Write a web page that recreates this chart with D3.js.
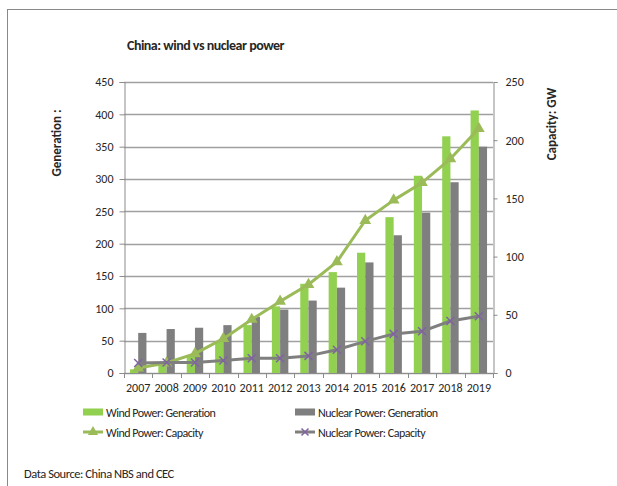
<!DOCTYPE html>
<html><head><meta charset="utf-8">
<script src="https://cdn.jsdelivr.net/npm/d3@7/dist/d3.min.js"></script>
<style>
html,body{margin:0;padding:0;background:#fff;}
text{font-family:Carlito, Lato, 'Open Sans', sans-serif; fill:#262626;}
</style></head>
<body><svg id="c" width="617" height="486"></svg>
<script>
const years = ["2007","2008","2009","2010","2011","2012","2013","2014","2015","2016","2017","2018","2019"];
const windGen = [5.7, 13, 27.6, 49.4, 74.1, 103, 138, 156, 186, 241, 305, 366, 406];
const nuclearGen = [62, 68, 70, 74, 87, 98, 112, 132, 171, 213, 248, 295, 350];
const windCap = [4.3, 8.6, 16.6, 29.5, 46, 61.5, 76, 95.5, 131, 148.5, 163.5, 184, 210];
const nuclearCap = [8.6, 9.1, 9.1, 10.8, 12.6, 12.6, 14.7, 20, 27.2, 33.6, 35.8, 44.7, 48.7];
const leftTicks = [0,50,100,150,200,250,300,350,400,450];
const rightTicks = [0,50,100,150,200,250];
const legendLabels = ["Wind Power: Generation","Nuclear Power: Generation","Wind Power: Capacity","Nuclear Power: Capacity"];

const C = {wind:"#92d050", nuc:"#7f7f7f", windLine:"#9bbb59", nucLine:"#7f7f7f", nucMark:"#8064a2", grid:"#a0a0a0", axis:"#8c8c8c"};
const svg = d3.select("#c");
svg.append("rect").attr("x",7.5).attr("y",9.5).attr("width",700).attr("height",600)
  .attr("fill","#fff").attr("stroke","#898989");

const L=124, R=493, T=82, B=373;
const x = d3.scaleBand().domain(years).range([L,R]).padding(0);
const yL = d3.scaleLinear().domain([0,450]).range([B,T]);
const yR = d3.scaleLinear().domain([0,250]).range([B,T]);

// gridlines
svg.append("g").selectAll("line").data(leftTicks).join("line")
  .attr("x1",L).attr("x2",R).attr("y1",d=>Math.round(yL(d))+0.5).attr("y2",d=>Math.round(yL(d))+0.5)
  .attr("stroke",C.grid).attr("stroke-width",1.3);

// bars
const bw = x.bandwidth()*0.29;
const g = svg.append("g");
g.selectAll(".w").data(years).join("rect")
  .attr("x",d=>x(d)+x.bandwidth()/2-bw).attr("width",bw)
  .attr("y",(d,i)=>yL(windGen[i])).attr("height",(d,i)=>yL(0)-yL(windGen[i]))
  .attr("fill",C.wind);
g.selectAll(".n").data(years).join("rect")
  .attr("x",d=>x(d)+x.bandwidth()/2).attr("width",bw)
  .attr("y",(d,i)=>yL(nuclearGen[i])).attr("height",(d,i)=>yL(0)-yL(nuclearGen[i]))
  .attr("fill",C.nuc);

// axes
const fs = "12px";
const axL = svg.append("g").attr("transform",`translate(${L+0.5},0)`)
  .call(d3.axisLeft(yL).tickValues(leftTicks).tickSize(5).tickPadding(6));
const axR = svg.append("g").attr("transform",`translate(${R+0.5},0)`)
  .call(d3.axisRight(yR).tickValues(rightTicks).tickSize(4).tickPadding(8));
const axB = svg.append("g").attr("transform",`translate(0,${B+0.5})`)
  .call(d3.axisBottom(x).tickSize(0).tickPadding(10));
[axL,axR,axB].forEach(a=>{
  a.select(".domain").attr("stroke",C.axis);
  a.selectAll(".tick line").attr("stroke",C.axis);
  a.selectAll("text").style("font-size",fs).style("fill","#262626").style("font-family","Carlito, Lato, 'Open Sans', sans-serif");
});
axB.select(".domain").remove();
svg.append("line").attr("x1",L).attr("x2",R).attr("y1",B+0.5).attr("y2",B+0.5).attr("stroke",C.axis);
// category boundary ticks
svg.append("g").selectAll("line").data(years.concat(["end"])).join("line")
  .attr("x1",(d,i)=>Math.round(i<years.length? x(d): R)+0.5).attr("x2",(d,i)=>Math.round(i<years.length? x(d): R)+0.5)
  .attr("y1",B).attr("y2",B+5).attr("stroke",C.axis);

// lines
const cx = d=>x(d)+x.bandwidth()/2;
const lineW = d3.line().x((d,i)=>cx(years[i])).y(d=>yR(d));
svg.append("path").datum(windCap).attr("d",lineW).attr("fill","none").attr("stroke",C.windLine).attr("stroke-width",3).attr("stroke-linejoin","round");
svg.append("g").selectAll("path").data(windCap).join("path")
  .attr("d",d3.symbol().type(d3.symbolTriangle).size(60))
  .attr("transform",(d,i)=>`translate(${cx(years[i])},${yR(d)})`).attr("fill",C.windLine);
svg.append("path").datum(nuclearCap).attr("d",lineW).attr("fill","none").attr("stroke",C.nucLine).attr("stroke-width",3).attr("stroke-linejoin","round");
const xMark = s=>`M${-s},${-s}L${s},${s}M${-s},${s}L${s},${-s}`;
svg.append("g").selectAll("path").data(nuclearCap).join("path")
  .attr("d",xMark(4))
  .attr("transform",(d,i)=>`translate(${cx(years[i])},${yR(d)})`).attr("stroke",C.nucMark).attr("stroke-width",1.5).attr("fill","none");

// title and axis titles
svg.append("text").attr("x",127).attr("y",50).text("China: wind vs nuclear power")
  .style("font-size","14px").style("font-weight","bold").style("letter-spacing","-0.5px");
svg.append("text").attr("transform","translate(61,143) rotate(-90)").attr("text-anchor","middle")
  .text("Generation :").style("font-size","13px").style("font-weight","bold");
svg.append("text").attr("transform","translate(556,124) rotate(-90)").attr("text-anchor","middle")
  .text("Capacity: GW").style("font-size","13px").style("font-weight","bold");

// legend
const lg = svg.append("g");
const lx = [83,295], ly=[412,432];
lg.append("rect").attr("x",lx[0]).attr("y",ly[0]-3.5).attr("width",20).attr("height",7).attr("fill",C.wind);
lg.append("rect").attr("x",lx[1]).attr("y",ly[0]-3.5).attr("width",20).attr("height",7).attr("fill",C.nuc);
lg.append("line").attr("x1",lx[0]).attr("x2",lx[0]+20).attr("y1",ly[1]).attr("y2",ly[1]).attr("stroke",C.windLine).attr("stroke-width",3);
lg.append("path").attr("d",d3.symbol().type(d3.symbolTriangle).size(45)).attr("transform",`translate(${lx[0]+10},${ly[1]})`).attr("fill",C.windLine);
lg.append("line").attr("x1",lx[1]).attr("x2",lx[1]+20).attr("y1",ly[1]).attr("y2",ly[1]).attr("stroke",C.nucLine).attr("stroke-width",3);
lg.append("path").attr("d",xMark(3.5)).attr("transform",`translate(${lx[1]+10},${ly[1]})`).attr("stroke",C.nucMark).attr("stroke-width",1.5);
const lpos = [[lx[0],ly[0]],[lx[1],ly[0]],[lx[0],ly[1]],[lx[1],ly[1]]];
lg.selectAll("text").data(legendLabels).join("text")
  .attr("x",(d,i)=>lpos[i][0]+23).attr("y",(d,i)=>lpos[i][1]+4.5).text(d=>d)
  .style("font-size","12px").style("letter-spacing","-0.5px");

svg.append("text").attr("x",24).attr("y",478).text("Data Source: China NBS and CEC")
  .style("font-size","12.5px").style("letter-spacing","-0.45px");
</script></body></html>
